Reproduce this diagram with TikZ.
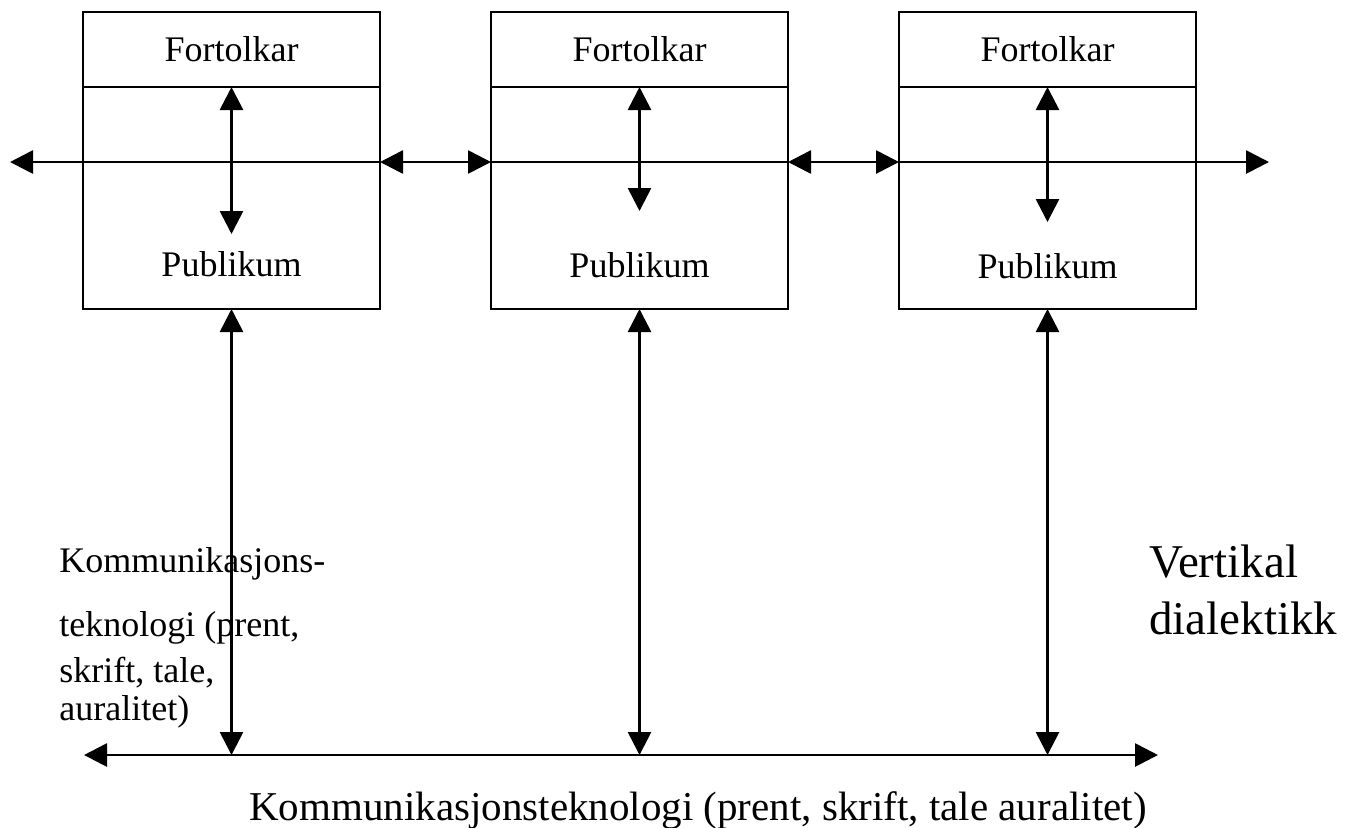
\documentclass[tikz,border=0pt]{standalone}
\usepackage{fontspec}
\setmainfont{Liberation Serif}
\usetikzlibrary{arrows.meta,positioning}

\begin{document}
\begin{tikzpicture}[x=0.5pt, y=-0.5pt, line width=1.35pt,
    >={Triangle[length=11.5pt,width=11.5pt]},
    node distance=55.5pt,
    fortbox/.style={draw, outer sep=0pt, inner sep=0pt, minimum width=148.5pt,
      minimum height=37.5pt, font=\fontsize{18}{21}\selectfont},
    pubbox/.style={draw, outer sep=0pt, inner sep=0pt, minimum width=148.5pt,
      minimum height=111pt, below=0pt of #1},
    boxtxt/.style={inner sep=0pt, anchor=base, font=\fontsize{18}{21}\selectfont},
    sidetxt/.style={inner sep=0pt, anchor=base west, font=\fontsize{18}{21}\selectfont},
    bigtxt/.style={inner sep=0pt, anchor=base west, font=\fontsize{23.5}{28}\selectfont}]
  \useasboundingbox (0,0) rectangle (1348,827);

  % De tre boksane: fortolkar oppe, publikum nede
  \node[fortbox, anchor=north west] (fort1) at (83,12) {Fortolkar};
  \node[fortbox, right=of fort1] (fort2) {Fortolkar};
  \node[fortbox, right=of fort2] (fort3) {Fortolkar};
  \node[pubbox=fort1] (pbox1) {};
  \node[pubbox=fort2] (pbox2) {};
  \node[pubbox=fort3] (pbox3) {};
  \node[boxtxt] (pub1) at (pbox1.center |- 0,276) {Publikum};
  \node[boxtxt] (pub2) at (pbox2.center |- 0,277) {Publikum};
  \node[boxtxt] (pub3) at (pbox3.center |- 0,278) {Publikum};

  % Horisontal linje gjennom boksane
  \coordinate (midL) at (10,162);
  \coordinate (midR) at (1269,162);
  \draw[->] (pbox1.east |- midL) -- (midL);
  \draw[<->] (pbox1.east |- midL) -- (pbox2.west |- midL);
  \draw (pbox2.west |- midL) -- (pbox2.east |- midL);
  \draw[<->] (pbox2.east |- midL) -- (pbox3.west |- midL);
  \draw[->] (pbox3.west |- midL) -- (midR);

  % Piler inne i boksane
  \foreach \i/\e in {1/234, 2/211, 3/222}
    \draw[<->] (fort\i.south) -- (fort\i.south |- 0,\e);

  % Teknologi-linja nede og dei lange pilene
  \coordinate (botL) at (84,755);
  \coordinate (botR) at (1158,755);
  \draw[<->] (botL) -- (botR);
  \foreach \i in {1,2,3}
    \draw[<->] (pbox\i.south) -- (pbox\i.south |- botL);

  % Tekstar
  \node[sidetxt] (kom1) at (58,572) {Kommunikasjons-};
  \node[sidetxt] (kom2) at (58,636) {teknologi (prent,};
  \node[sidetxt] (kom3) at (58,682) {skrift, tale,};
  \node[sidetxt] (kom4) at (58,720) {auralitet)};
  \node[bigtxt] (vert1) at (1148,577) {Vertikal};
  \node[bigtxt] (vert2) at (1148,634) {dialektikk};
  \node[inner sep=0pt, anchor=base, font=\fontsize{20.5}{24}\selectfont]
    (bottxt) at (698,820) {Kommunikasjonsteknologi (prent, skrift, tale auralitet)};
\end{tikzpicture}
\end{document}
